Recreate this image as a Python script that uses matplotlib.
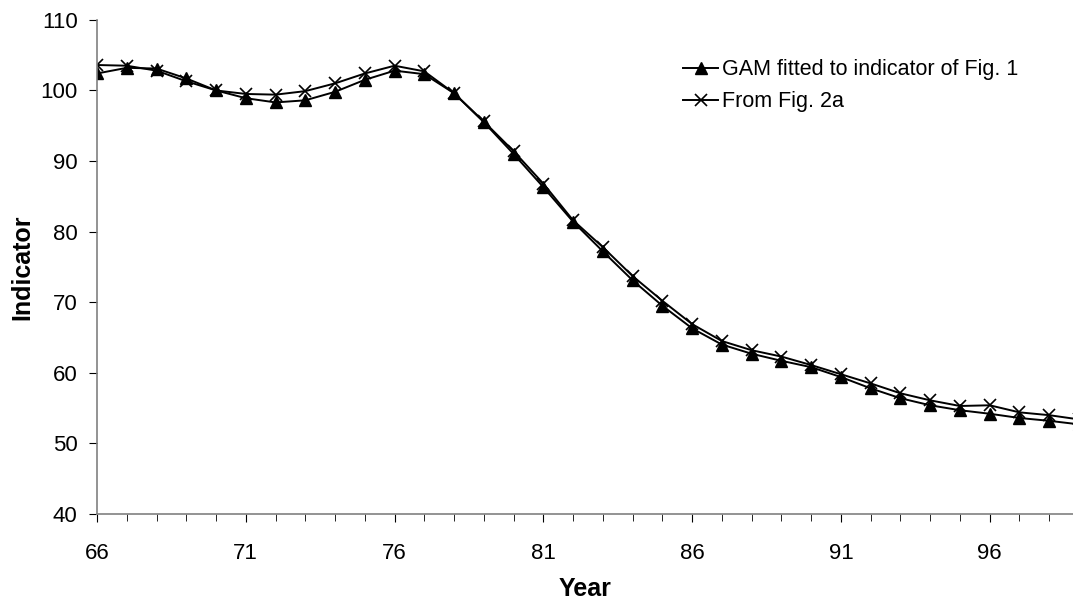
import numpy as np
import matplotlib.pyplot as plt
from matplotlib.ticker import FixedLocator, MultipleLocator

plt.rcParams['font.family'] = ['Liberation Sans', 'DejaVu Sans']

# years 66..99 (99 lies just past the right edge of the picture)
years = list(range(66, 100))
year_ticks = [66, 71, 76, 81, 86, 91, 96]

gam_fit = [102.4, 103.2, 103.1, 101.7, 100.0, 98.9, 98.3, 98.6, 99.8, 101.5,
           102.8, 102.3, 99.6, 95.5, 91.0, 86.3, 81.4, 77.2, 73.1, 69.5,
           66.3, 64.0, 62.7, 61.7, 60.8, 59.4, 57.8, 56.4, 55.4, 54.7,
           54.2, 53.6, 53.2, 52.7]

fig2a = [103.6, 103.5, 102.8, 101.3, 100.0, 99.5, 99.4, 99.9, 101.0, 102.4,
         103.5, 102.7, 99.6, 95.6, 91.4, 86.8, 81.6, 77.8, 73.7, 70.2,
         66.9, 64.5, 63.2, 62.3, 61.1, 59.8, 58.5, 57.1, 56.1, 55.3,
         55.4, 54.4, 54.0, 53.4]

fig = plt.figure(figsize=(10.73, 5.99), dpi=100)
ax = fig.add_axes([0.0904, 0.1419, 0.9096, 0.825])

ax.plot(years, gam_fit, '-^', color='black', lw=1.4, ms=8,
        label='GAM fitted to indicator of Fig. 1')
ax.plot(years, fig2a, '-x', color='black', lw=1.4, ms=9, mew=1.2,
        label='From Fig. 2a')

ax.set_xlim(66, 98.8)
ax.set_ylim(40, 110)
ax.xaxis.set_major_locator(FixedLocator(year_ticks))
ax.xaxis.set_minor_locator(MultipleLocator(1))
ax.yaxis.set_major_locator(MultipleLocator(10))

for s in ['top', 'right']:
    ax.spines[s].set_visible(False)
for s in ['left', 'bottom']:
    ax.spines[s].set_color('#808080')
    ax.spines[s].set_linewidth(1.2)

ax.tick_params(axis='both', which='major', direction='out', length=6,
               color='black', labelsize=16, pad=8)
ax.tick_params(axis='x', which='minor', direction='out', length=5, color='black')
ax.tick_params(axis='x', which='major', pad=15)

ax.set_xlabel('Year', fontsize=18, fontweight='bold', labelpad=9)
ax.set_ylabel('Indicator', fontsize=18, fontweight='bold', labelpad=4)

ax.legend(loc='upper left', bbox_to_anchor=(0.581, 0.959), frameon=False,
          fontsize=15.5, handlelength=1.6, handletextpad=0.2, labelspacing=0.5)

fig.savefig('out.png', dpi=100)
